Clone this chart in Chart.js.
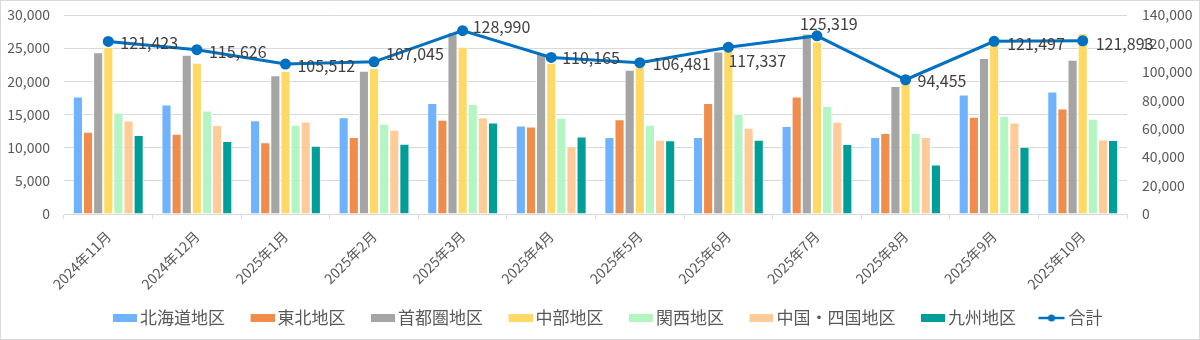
<!DOCTYPE html>
<html>
<head>
<meta charset="utf-8">
<script src="https://cdn.jsdelivr.net/npm/chart.js@4.4.0/dist/chart.umd.min.js"></script>
<style>
  html, body { margin: 0; padding: 0; background: #fff; }
  #wrap { width: 1198px; height: 338px; border: 1px solid #d9d9d9; }
</style>
</head>
<body>
<div id="wrap"><canvas id="chart" width="1198" height="338"></canvas></div>
<script>
// --- data ---
const months = ['2024年11月', '2024年12月', '2025年1月', '2025年2月', '2025年3月', '2025年4月',
  '2025年5月', '2025年6月', '2025年7月', '2025年8月', '2025年9月', '2025年10月'];

const hokkaido = [17700, 16500, 14150, 14600, 16750, 13350, 11600, 11600, 13250, 11600, 18000, 18450];
const tohoku   = [12400, 12100, 10800, 11600, 14200, 13200, 14300, 16750, 17700, 12200, 14650, 15900];
const shutoken = [24400, 24000, 20900, 21600, 27400, 24200, 21750, 24500, 27200, 19300, 23500, 23250];
const chubu    = [25200, 22800, 21550, 22000, 25200, 22750, 22500, 24850, 26000, 20000, 25900, 27250];
const kansai   = [15300, 15600, 13450, 13600, 16600, 14500, 13450, 15100, 16300, 12200, 14800, 14350];
const chushikoku = [14100, 13400, 13950, 12700, 14600, 10200, 11200, 13000, 13900, 11600, 13800, 11250];
const kyushu   = [11900, 11000, 10300, 10600, 13800, 11700, 11100, 11200, 10550, 7450, 10150, 11150];
const total    = [121423, 115626, 105512, 107045, 128990, 110165, 106481, 117337, 125319, 94455, 121497, 121893];

const regionNames = ['北海道地区', '東北地区', '首都圏地区', '中部地区', '関西地区', '中国・四国地区', '九州地区'];
const regionSeries = [hokkaido, tohoku, shutoken, chubu, kansai, chushikoku, kyushu];
const regionColors = ['#6FB3FF', '#F08C4C', '#A5A5A5', '#FFD966', '#B3F5C3', '#FFCC99', '#009E98'];
const lineColor = '#0070C0';

// where each total label sits relative to its point [dx, dy]
const labelOffsets = [[12, 2], [12, 2], [12, 2], [12, -8], [10, -4], [11, 1],
  [13, 1], [0, 14], [-17, -12], [12, 1], [13, 3], [13, 3]];

const FONT = '"Noto Sans CJK JP", "Noto Sans", sans-serif';
const TEXT = '#595959';

// legend swatches as small canvases; the left part is transparent so it
// works as spacing between legend items, the visible mark sits by the text
const makeSwatch = (color, isLine) => {
  const c = document.createElement('canvas');
  c.width = 45; c.height = 10;
  const g = c.getContext('2d');
  if (isLine) {
    g.strokeStyle = color; g.lineWidth = 2.5;
    g.beginPath(); g.moveTo(18, 5); g.lineTo(44, 5); g.stroke();
    g.fillStyle = color;
    g.beginPath(); g.arc(31, 5, 3.5, 0, Math.PI * 2); g.fill();
  } else {
    g.fillStyle = color;
    g.fillRect(21, 1, 24, 8);
  }
  return c;
};

const totalLabels = {
  id: 'totalLabels',
  afterDatasetsDraw(chart) {
    const idx = chart.data.datasets.findIndex(d => d.type === 'line');
    const meta = chart.getDatasetMeta(idx);
    const ctx = chart.ctx;
    ctx.save();
    ctx.font = '16px ' + FONT;
    ctx.fillStyle = '#404040';
    ctx.textAlign = 'left';
    ctx.textBaseline = 'middle';
    meta.data.forEach((pt, i) => {
      const [dx, dy] = labelOffsets[i];
      ctx.fillText(total[i].toLocaleString('en-US'), pt.x + dx, pt.y + dy);
    });
    ctx.restore();
  }
};

// tick padding also inflates vertical padding of y axes; drop it so the plot top is set by layout
const fixAxis = (width) => (s) => {
  s.width = width;
  s.paddingTop = 0;
  s.paddingBottom = 0;
};

const datasets = regionNames.map((name, i) => ({
  type: 'bar',
  label: name,
  data: regionSeries[i],
  backgroundColor: regionColors[i],
  borderColor: '#ffffff',
  borderWidth: 1,
  yAxisID: 'y',
  order: 1,
  categoryPercentage: 0.8,
  barPercentage: 1.0
}));

datasets.push({
  type: 'line',
  label: '合計',
  data: total,
  borderColor: lineColor,
  backgroundColor: lineColor,
  borderWidth: 3,
  pointRadius: 4,
  pointBackgroundColor: lineColor,
  pointBorderColor: lineColor,
  tension: 0,
  yAxisID: 'y1',
  order: 0
});

new Chart(document.getElementById('chart'), {
  data: { labels: months, datasets },
  plugins: [totalLabels],
  options: {
    responsive: false,
    animation: false,
    layout: { padding: { top: 14, bottom: 2.5, left: 0, right: 0 } },
    plugins: {
      tooltip: { enabled: false },
      legend: {
        position: 'bottom',
        labels: {
          usePointStyle: true,
          pointStyleWidth: 34,
          padding: 10,
          color: TEXT,
          font: { family: FONT, size: 17 },
          generateLabels: (chart) => chart.data.datasets.map((d, i) => ({
            text: d.label,
            pointStyle: makeSwatch(d.type === 'line' ? lineColor : d.backgroundColor, d.type === 'line'),
            fillStyle: d.backgroundColor,
            strokeStyle: d.backgroundColor,
            lineWidth: 0,
            hidden: false,
            datasetIndex: i,
            fontColor: TEXT
          }))
        }
      }
    },
    scales: {
      x: {
        grid: { display: true, drawOnChartArea: false, drawTicks: true, tickLength: 5, color: '#d9d9d9', offset: true },
        border: { display: true, color: '#d9d9d9' },
        ticks: { color: TEXT, font: { family: FONT, size: 14 }, minRotation: 45, maxRotation: 45, padding: 9 },
        afterFit: (s) => { s.height = 85.5; }
      },
      y: {
        position: 'left',
        min: 0, max: 30000,
        ticks: { stepSize: 5000, color: TEXT, font: { family: FONT, size: 14 }, padding: 14,
          callback: v => v.toLocaleString('en-US') },
        grid: { color: '#d9d9d9', drawTicks: false },
        border: { display: false },
        afterFit: fixAxis(63)
      },
      y1: {
        position: 'right',
        min: 0, max: 140000,
        ticks: { stepSize: 20000, color: TEXT, font: { family: FONT, size: 14 }, padding: 15,
          callback: v => v.toLocaleString('en-US') },
        grid: { display: false, drawTicks: false },
        border: { display: false },
        afterFit: fixAxis(72)
      }
    }
  }
});
</script>
</body>
</html>
